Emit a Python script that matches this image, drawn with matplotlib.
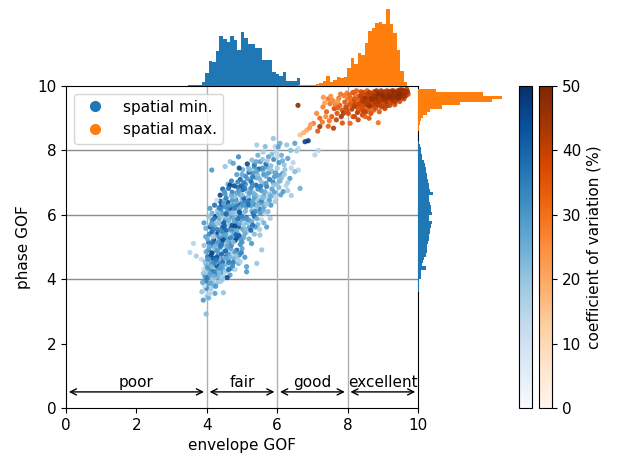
import numpy as np
import matplotlib
matplotlib.use("Agg")
import matplotlib.pyplot as plt
from matplotlib.lines import Line2D
from matplotlib.cm import ScalarMappable
from matplotlib.colors import Normalize

plt.rcParams['font.size'] = 11

# ---------------- data ----------------
blue_x = [3.98,3.90,4.00,4.05,3.86,3.95,4.23,4.47,4.00,4.12,
          4.19,3.93,4.05,4.30,3.98,4.15,4.40,4.08,3.88,4.25,
          3.90,3.95,4.02,4.10,4.18,4.25,4.32,4.40,4.05,4.15,
          4.22,4.30,4.45,4.55,4.66,4.71,4.60,4.50,4.35,4.12,
          4.00,3.92,4.28,4.48,4.38,4.90,5.13,5.13,5.42,4.08,
          4.20,4.58,4.80,3.98,4.62,3.52,3.70,3.85,3.95,4.02,
          4.10,4.18,4.25,4.32,4.40,4.48,4.55,4.62,4.70,4.78,
          4.85,4.92,5.08,5.00,4.05,4.15,4.22,4.30,4.38,4.45,
          4.58,4.68,4.75,4.12,4.35,4.60,3.98,4.42,4.88,5.56,
          4.20,4.52,4.28,4.80,4.95,3.62,3.97,3.92,4.05,4.12,
          4.20,4.28,4.35,4.42,4.50,4.58,4.65,4.72,4.80,4.88,
          4.95,5.05,5.12,5.27,5.51,5.20,4.08,4.15,4.25,4.32,
          4.40,4.48,4.55,4.62,4.70,4.78,4.85,5.00,4.02,4.18,
          4.38,4.60,4.92,5.35,4.45,3.97,4.05,3.92,4.10,4.22,
          4.30,4.38,4.45,4.52,4.60,4.68,4.75,4.82,4.90,4.98,
          5.05,5.12,5.20,5.28,5.35,5.45,5.55,5.80,5.70,4.15,
          4.25,4.35,4.42,4.55,4.65,4.72,4.85,4.95,5.02,5.15,
          5.25,5.38,5.50,4.18,4.48,4.78,5.08,4.58,4.88,5.62,
          4.09,4.15,4.22,4.30,4.38,4.45,4.52,4.60,4.68,4.75,
          4.82,4.90,4.98,5.05,5.12,5.20,5.28,5.35,5.42,5.50,
          5.58,5.66,5.74,5.82,5.94,4.35,4.50,4.65,4.72,4.88,
          5.00,5.15,5.25,5.40,5.55,5.70,4.42,4.58,4.95,5.32,
          5.62,4.80,5.08,5.48,4.28,4.38,4.45,4.52,4.60,4.66,
          4.72,4.80,4.88,4.95,5.02,5.10,5.18,5.25,5.32,5.40,
          5.48,5.55,5.62,5.70,5.78,5.85,5.95,6.05,6.17,6.65,
          6.40,4.55,4.85,5.05,5.15,5.35,5.45,5.58,5.75,5.92,
          6.00,4.98,5.28,5.65,6.25,4.14,4.52,4.70,4.85,4.95,
          5.02,5.10,5.18,5.25,5.32,5.40,5.48,5.55,5.62,5.70,
          5.78,5.85,5.92,6.00,6.08,6.15,6.22,6.36,6.60,6.50,
          5.05,5.35,5.60,5.88,6.05,5.20,5.45,5.75,4.92,6.30,
          4.66,4.75,4.90,5.28,5.35,5.45,5.52,5.60,5.68,5.75,
          5.82,5.90,5.98,6.05,6.12,6.20,6.30,6.45,5.42,5.66,
          5.94,6.08,6.27,6.50,6.79,6.60,7.07,7.17,5.89,6.03,
          6.55,5.15,6.38,6.88,
          4.03,4.13,4.27,4.43,4.53,4.65,4.73,4.83,4.98,4.07,
          4.17,4.23,4.33,4.47,4.53,4.67,4.75,4.83,4.97,5.08,
          4.12,4.20,4.28,4.40,4.50,4.62,4.70,4.80,4.92,5.00,
          5.10,5.18,5.30,5.42,4.33,4.40,4.48,4.55,4.63,4.70,
          4.78,4.85,4.93,5.02,5.10,5.18,5.30,5.38,5.45,5.52,
          5.60,5.68,5.78,4.50,4.62,4.70,4.78,4.92,5.00,5.08,
          5.22,5.30,5.38,5.52,5.60,5.68,5.82,5.90,6.10,6.30,
          4.88,5.00,5.15,5.22,5.30,5.42,5.50,5.58,5.68,5.80,
          5.95,6.12,6.20,6.40,5.40,5.58,5.72,5.85,6.00,6.15,
          4.02,4.20,4.35,3.96,4.10,4.45,4.62,4.28,4.42,4.58]
blue_y = [2.92,3.35,3.48,3.42,3.61,3.66,3.56,3.58,3.72,3.70,
          3.82,3.80,3.86,3.90,3.95,3.96,3.93,3.55,3.90,3.78,
          4.18,4.08,4.05,4.12,4.02,4.15,4.08,4.20,4.25,4.30,
          4.38,4.28,4.32,4.25,4.13,4.34,4.42,4.45,4.48,4.45,
          4.40,4.32,4.42,4.10,4.35,4.49,4.23,4.39,4.49,4.18,
          4.22,4.05,4.30,4.48,4.30,4.83,4.72,4.62,4.55,4.70,
          4.58,4.65,4.52,4.75,4.62,4.85,4.70,4.58,4.80,4.65,
          4.90,4.75,4.68,4.95,4.90,4.82,4.95,4.88,4.98,4.55,
          4.92,4.95,4.52,4.75,4.62,4.78,4.85,4.78,4.60,4.91,
          4.50,4.65,4.68,4.85,4.55,5.11,5.32,5.05,5.15,5.05,
          5.22,5.10,5.30,5.18,5.05,5.25,5.12,5.35,5.20,5.42,
          5.08,5.30,5.45,5.11,5.37,5.25,5.40,5.48,5.38,5.45,
          5.40,5.32,5.48,5.40,5.05,5.48,5.28,5.15,5.25,5.32,
          5.02,5.02,5.35,5.40,5.48,5.58,5.94,5.75,5.62,5.68,
          5.55,5.72,5.60,5.85,5.70,5.58,5.90,5.75,5.62,5.85,
          5.70,5.92,5.60,5.80,5.95,5.70,5.85,5.89,5.62,5.82,
          5.95,5.88,5.98,5.52,5.95,5.68,5.52,5.98,5.55,5.75,
          5.52,5.62,5.55,5.55,5.75,5.80,5.88,5.92,5.88,5.75,
          6.20,6.05,6.30,6.12,6.42,6.05,6.25,6.38,6.10,6.30,
          6.48,6.15,6.35,6.05,6.25,6.45,6.12,6.32,6.48,6.18,
          6.38,6.05,6.10,6.30,6.41,6.22,6.45,6.20,6.45,6.30,
          6.48,6.40,6.28,6.20,6.45,6.40,6.32,6.12,6.22,6.05,
          6.25,6.05,6.42,6.35,6.45,6.61,6.80,6.65,6.95,6.92,
          6.70,6.55,6.85,6.62,6.78,6.95,6.58,6.82,6.68,6.92,
          6.55,6.75,6.60,6.88,6.65,6.80,6.55,6.85,6.72,6.82,
          6.60,6.52,6.68,6.52,6.72,6.55,6.80,6.95,6.52,6.70,
          6.95,6.90,6.98,6.72,6.90,7.39,7.50,7.05,7.25,7.10,
          7.40,7.20,7.45,7.05,7.30,7.15,7.42,7.02,7.25,7.48,
          7.10,7.35,7.18,7.45,7.05,7.28,7.40,7.13,7.39,7.34,
          7.00,7.48,7.38,7.02,7.22,7.32,7.22,7.30,7.45,7.00,
          7.65,7.60,7.80,7.70,7.55,7.85,7.65,7.95,7.58,7.80,
          7.52,7.72,7.95,7.62,7.85,7.55,7.75,7.62,8.17,8.12,
          8.12,8.22,8.17,8.22,8.27,8.06,7.86,8.00,8.37,8.11,
          7.98,7.58,8.00,8.30,
          4.62,4.38,4.60,4.42,4.88,4.68,4.42,4.72,4.82,4.98,
          5.12,5.02,5.15,5.22,5.38,5.28,5.15,5.38,5.22,5.42,
          5.70,5.88,5.75,5.52,5.65,5.82,5.52,5.65,5.72,5.95,
          5.55,5.85,5.68,5.88,6.02,6.18,6.35,6.02,6.28,6.05,
          6.20,6.40,6.08,6.30,6.12,6.32,6.42,6.10,6.30,6.05,
          6.15,6.32,6.45,6.72,6.82,6.60,6.90,6.75,6.62,6.82,
          6.68,6.90,6.62,6.88,6.52,6.98,6.58,6.92,6.62,6.75,
          7.02,7.25,7.12,7.40,7.18,7.35,7.12,7.45,7.20,7.42,
          7.30,7.15,7.25,7.45,7.65,7.72,7.68,7.88,7.80,7.68,
          4.35,4.10,4.20,4.22,3.88,4.00,4.52,4.88,5.08,5.15]
blue_cv = [22,30,18,25,20,15,28,20,32,18,
           24,12,27,20,35,22,18,16,26,30,
           20,30,35,28,18,40,25,32,22,38,
           15,30,26,20,28,33,18,24,36,30,
           22,12,42,19,31,25,30,28,20,27,
           34,45,16,24,38,15,18,12,20,35,
           28,42,25,30,38,22,45,30,18,26,
           40,33,30,28,35,48,20,32,25,38,
           14,28,36,45,22,30,27,40,18,20,
           33,25,44,30,16,15,28,20,38,30,
           45,25,33,42,20,30,36,28,48,22,
           32,26,18,30,20,25,34,40,28,46,
           22,30,38,15,32,26,44,30,25,18,
           36,28,42,22,33,25,20,30,42,28,
           35,22,46,30,18,38,26,33,45,28,
           20,36,30,25,40,22,15,18,28,32,
           48,26,20,38,30,44,25,34,28,22,
           40,30,18,35,42,26,30,20,38,24,
           30,25,38,20,42,28,33,46,22,30,
           40,26,35,18,30,44,25,32,20,38,
           28,15,22,30,18,36,26,45,30,40,
           22,33,28,20,35,15,42,30,25,38,
           28,20,34,30,12,46,40,30,25,48,
           35,20,38,28,42,30,22,33,25,40,
           18,30,26,35,20,28,15,22,30,25,
           18,35,28,40,22,30,33,25,18,28,
           20,42,30,26,15,30,20,35,28,40,
           25,33,22,38,30,26,42,20,32,28,
           35,22,30,18,25,30,20,28,15,22,
           36,30,25,33,28,40,22,30,45,18,
           20,28,32,22,35,25,30,18,38,28,
           22,33,15,30,25,20,28,15,18,22,
           15,25,20,28,46,12,15,15,20,28,
           18,45,22,48,
           30,22,36,28,40,24,32,20,35,26,
           38,24,30,44,28,34,22,40,30,26,
           28,36,20,32,40,25,30,46,28,34,
           22,30,38,26,24,34,28,40,30,22,
           36,26,44,30,24,38,28,32,22,30,
           26,20,28,30,38,26,44,30,22,36,
           28,32,24,36,22,30,26,20,28,18,
           34,26,30,22,36,28,24,32,26,20,
           28,22,18,15,26,20,18,22,15,25,
           30,25,22,18,26,20,34,28,36,24]

orange_x = [6.59,6.65,6.84,6.92,7.03,7.21,7.60,7.45,7.12,7.21,
            7.31,7.45,7.40,7.30,7.55,7.50,7.62,7.58,7.70,7.68,
            7.78,7.75,7.85,7.82,7.92,7.90,7.95,8.07,8.30,8.61,
            8.87,8.02,8.05,8.08,8.12,8.15,8.18,8.22,8.25,8.28,
            8.32,8.35,8.38,8.40,8.42,8.45,8.48,8.50,8.52,8.55,
            8.58,8.60,8.62,8.64,8.66,8.68,8.70,8.72,8.74,8.76,
            8.78,8.80,8.82,8.84,8.86,8.88,8.90,8.92,8.94,8.96,
            8.98,9.00,9.02,9.04,9.06,9.08,9.10,9.12,9.14,9.16,
            9.18,9.20,9.22,9.24,9.26,9.28,9.30,9.32,9.34,9.36,
            9.38,9.40,9.42,9.44,9.46,9.48,9.50,9.52,9.54,9.56,
            9.58,9.60,9.62,9.64,9.66,9.68,9.70,9.72,8.20,8.35,
            8.45,8.55,8.65,8.75,8.85,8.95,9.05,9.15,9.25,9.35,
            8.10,8.28,8.48,8.58,8.70,8.80,8.98,9.10,9.28,9.45,
            8.00,7.88,8.40,8.52,8.92,9.02,9.20,9.40,9.55,9.65,
            7.35,7.52,7.65,7.72,7.80,7.98,8.05,8.15,8.25,8.38,
            8.42,8.50,8.56,8.62,8.68,8.74,8.78,8.82,8.88,8.92,
            8.96,9.00,9.06,9.08,9.12,9.16,9.20,9.22,9.26,9.30,
            9.33,9.36,9.38,9.42,9.46,9.50,9.52,9.58,9.62,9.68,
            7.48,7.38,7.72,7.98,8.18,8.32,8.45,8.62,8.80,9.02,
            6.75,6.95,7.15,7.28,7.85,8.20,8.50,9.20,9.35,9.60]
orange_y = [9.40,8.48,8.63,8.70,8.84,8.74,8.69,8.75,9.15,9.00,
            9.65,9.60,9.20,9.35,9.05,9.45,9.30,9.55,9.15,8.95,
            9.40,9.62,9.25,9.05,9.50,9.70,9.35,8.84,8.95,9.00,
            8.86,9.15,9.42,9.62,9.28,9.05,9.52,9.72,9.35,9.18,
            9.60,9.45,9.25,9.68,9.10,9.52,9.35,9.72,9.20,9.60,
            9.42,9.28,9.68,9.52,9.15,9.75,9.38,9.60,9.25,9.48,
            9.70,9.32,9.55,9.78,9.42,9.62,9.20,9.50,9.72,9.35,
            9.58,9.80,9.45,9.65,9.30,9.75,9.52,9.68,9.40,9.82,
            9.60,9.72,9.48,9.78,9.62,9.55,9.85,9.70,9.42,9.65,
            9.80,9.58,9.75,9.68,9.85,9.52,9.72,9.82,9.65,9.88,
            9.75,9.60,9.85,9.78,9.70,9.90,9.82,9.75,9.60,9.70,
            9.80,9.85,9.62,9.82,9.68,9.85,9.55,9.62,9.70,9.58,
            9.48,9.45,9.62,9.55,9.50,9.62,9.68,9.78,9.78,9.62,
            9.60,9.15,9.38,9.45,9.40,9.60,9.58,9.70,9.75,9.82,
            9.48,9.68,9.42,9.52,9.75,9.78,9.72,9.80,9.85,9.82,
            9.55,9.62,9.75,9.80,9.58,9.70,9.45,9.85,9.75,9.62,
            9.75,9.68,9.82,9.62,9.85,9.72,9.82,9.65,9.85,9.62,
            9.80,9.75,9.68,9.85,9.75,9.88,9.70,9.85,9.75,9.82,
            8.92,9.05,9.32,9.25,9.38,9.30,9.22,9.38,9.50,9.38,
            8.55,8.80,8.60,8.88,8.85,9.05,9.05,9.40,9.50,9.68]
orange_cv = [48,16,20,24,28,45,42,34,26,32,
             24,30,33,28,35,30,38,27,36,40,
             34,29,37,44,35,30,40,33,40,36,
             30,38,36,32,42,35,40,30,38,44,
             36,42,34,38,40,45,36,34,42,38,
             46,35,40,44,38,36,42,47,34,40,
             45,38,42,36,44,40,35,46,42,38,
             44,40,36,47,40,42,45,38,44,40,
             48,42,38,45,40,46,42,47,36,44,
             45,40,48,42,44,38,46,40,45,42,
             47,40,44,46,42,40,45,38,36,40,
             38,34,45,40,46,44,42,48,44,40,
             34,38,44,40,38,46,45,42,46,48,
             30,42,38,42,40,44,40,46,44,48,
             22,25,28,24,30,28,32,36,34,38,
             42,44,40,42,46,44,40,45,47,42,
             46,48,44,46,42,47,45,48,44,46,
             48,45,47,44,48,46,48,45,47,44,
             30,26,34,38,42,36,40,44,42,40,
             18,22,35,30,36,38,34,38,42,44]

# marginal histogram counts (bin width 0.1)
top_blue_start = 3.46
top_blue_counts = [1,1,1,1,4,13,25,24,35,50,47,44,50,46,36,54,
                   48,42,42,38,38,26,26,26,14,12,10,14,5,5,5,8]
top_orange_start = 6.59
top_orange_counts = [1,1,1,1,1,2,3,5,10,4,6,9,8,9,18,28,
                     22,33,31,43,55,58,62,63,61,76,61,53,36,15,4]
right_blue_start = 2.9
right_blue_counts = [1,0,0,0,1,1,1,2,3,2,2,6,6,8,18,10,12,14,18,20,
                     21,21,23,25,25,28,28,30,33,26,25,33,31,30,28,25,
                     26,35,28,25,25,23,21,21,18,18,16,14,9,10,8,6,5,3]
right_orange_start = 8.6
right_orange_counts = [2,2,5,7,12,21,28,55,97,170,193,150,41]

zones = ["poor", "fair", "good", "excellent"]
zone_edges = [0, 4, 6, 8, 10]
cv_ticks = [0, 10, 20, 30, 40, 50]

# ---------------- figure ----------------
fig = plt.figure(figsize=(6.17, 4.59), dpi=100)
L, B, W, H = 0.1070, 0.1111, 0.5705, 0.7015
ax = fig.add_axes([L, B, W, H])
axt = fig.add_axes([L, B + H, W, 0.1754], sharex=ax)
axr = fig.add_axes([L + W, B, 0.1426, H], sharey=ax)

for v in [4, 6, 8]:
    ax.axvline(v, color='#b0b0b0', lw=1, zorder=0)
    ax.axhline(v, color='#8c8c8c', lw=1, zorder=0)

norm = Normalize(vmin=0, vmax=50)
ax.scatter(blue_x, blue_y, c=blue_cv, cmap='Blues', norm=norm, s=14,
           alpha=0.9, linewidths=0, zorder=2)
ax.scatter(orange_x, orange_y, c=orange_cv, cmap='Oranges', norm=norm, s=14,
           alpha=0.9, linewidths=0, zorder=2)

for i, lab in enumerate(zones):
    a, b = zone_edges[i], zone_edges[i + 1]
    ax.annotate('', xy=(a, 0.5), xytext=(b, 0.5),
                arrowprops=dict(arrowstyle='<->', color='k', lw=1))
    ax.text((a + b) / 2, 0.56, lab, ha='center', va='bottom')

handles = [Line2D([], [], marker='o', ls='', color='C0', markersize=7),
           Line2D([], [], marker='o', ls='', color='C1', markersize=7)]
ax.legend(handles, ['spatial min.', 'spatial max.'], loc='upper left')

ax.set_xticks([0, 2, 4, 6, 8, 10])
ax.set_yticks([0, 2, 4, 6, 8, 10])
ax.set_xlabel('envelope GOF')
ax.set_ylabel('phase GOF')

# top histogram
tb = top_blue_start + 0.1 * np.arange(len(top_blue_counts))
to = top_orange_start + 0.1 * np.arange(len(top_orange_counts))
axt.bar(tb, top_blue_counts, width=0.1, align='edge', color='C0', linewidth=0)
axt.bar(to, top_orange_counts, width=0.1, align='edge', color='C1', linewidth=0)
axt.set_ylim(0, max(top_orange_counts) * 1.05)
axt.axis('off')

# right histogram
rb = right_blue_start + 0.1 * np.arange(len(right_blue_counts))
ro = right_orange_start + 0.1 * np.arange(len(right_orange_counts))
axr.barh(rb, right_blue_counts, height=0.1, align='edge', color='C0', linewidth=0)
axr.barh(ro, right_orange_counts, height=0.1, align='edge', color='C1', linewidth=0)
axr.set_xlim(0, max(right_orange_counts) * 1.05)
axr.axis('off')
ax.set_xlim(0, 10)
ax.set_ylim(0, 10)

# colorbars
cax1 = fig.add_axes([0.8412, B, 0.0211, H])
cax2 = fig.add_axes([0.8736, B, 0.0211, H])
cb1 = fig.colorbar(ScalarMappable(norm=norm, cmap='Blues'), cax=cax1)
cb1.set_ticks([])
cb2 = fig.colorbar(ScalarMappable(norm=norm, cmap='Oranges'), cax=cax2)
cb2.set_ticks(cv_ticks)
cb2.set_label('coefficient of variation (%)')

fig.savefig('out.png', dpi=100)
